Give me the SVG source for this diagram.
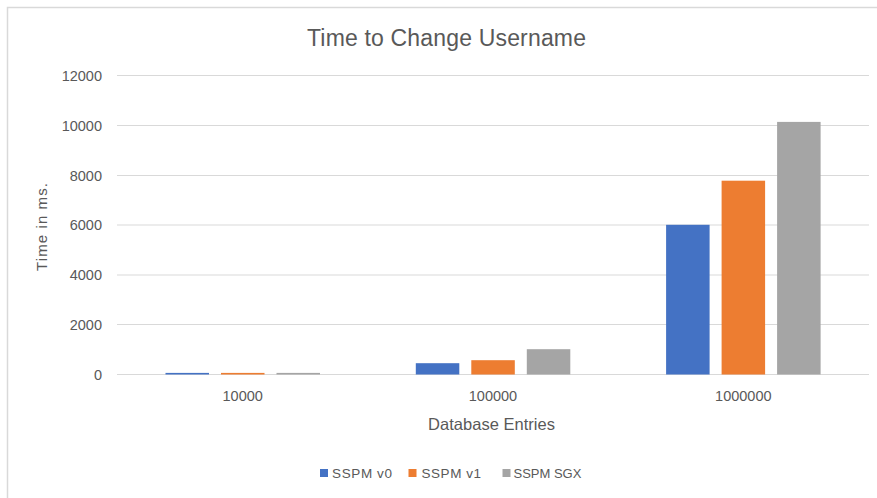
<svg xmlns="http://www.w3.org/2000/svg" width="877" height="498" viewBox="0 0 877 498">
  <style>
    text { font-family: "Liberation Sans", Arial, sans-serif; fill: #595959; }
    .title { font-size: 23px; }
    .tick { font-size: 14.5px; }
    .axis { font-size: 15px; }
    .legend { font-size: 13.5px; }
    .grid { stroke: #D9D9D9; stroke-width: 1; }
    .v0 { fill: #4472C4; }
    .v1 { fill: #ED7D31; }
    .sgx { fill: #A5A5A5; }
  </style>

  <!-- chart area -->
  <rect x="0" y="0" width="877" height="498" fill="#FFFFFF"/>
  <path d="M7.5,498 V7.5 H877" fill="none" stroke="#D9D9D9" stroke-width="1.5"/>

  <text class="title" x="446.5" y="46" text-anchor="middle" textLength="279">Time to Change Username</text>

  <!-- value axis: gridlines and labels -->
  <g id="gridlines">
    <line class="grid" x1="117" y1="75.5" x2="869" y2="75.5"/>
    <line class="grid" x1="117" y1="125.5" x2="869" y2="125.5"/>
    <line class="grid" x1="117" y1="175.5" x2="869" y2="175.5"/>
    <line class="grid" x1="117" y1="225" x2="869" y2="225"/>
    <line class="grid" x1="117" y1="275" x2="869" y2="275"/>
    <line class="grid" x1="117" y1="324.5" x2="869" y2="324.5"/>
    <line class="grid" x1="117" y1="374.5" x2="869" y2="374.5"/>
  </g>
  <g id="y-labels" class="tick" text-anchor="end">
    <text class="tick" x="102" y="80.5">12000</text>
    <text class="tick" x="102" y="130.5">10000</text>
    <text class="tick" x="102" y="180.5">8000</text>
    <text class="tick" x="102" y="230">6000</text>
    <text class="tick" x="102" y="280">4000</text>
    <text class="tick" x="102" y="329.5">2000</text>
    <text class="tick" x="102" y="379.5">0</text>
  </g>
  <text class="axis" transform="translate(47,227) rotate(-90)" text-anchor="middle" textLength="88">Time in ms.</text>

  <!-- bars per category -->
  <g id="group-10000">
    <rect class="v0" x="165.5" y="372.9" width="43.5" height="1.6"/>
    <rect class="v1" x="221" y="372.9" width="43.5" height="1.6"/>
    <rect class="sgx" x="276.5" y="372.9" width="43.5" height="1.6"/>
    <text class="tick" x="242.7" y="401" text-anchor="middle">10000</text>
  </g>
  <g id="group-100000">
    <rect class="v0" x="415.8" y="363.2" width="43.5" height="11.3"/>
    <rect class="v1" x="471.3" y="360.2" width="43.5" height="14.3"/>
    <rect class="sgx" x="526.8" y="349.2" width="43.5" height="25.3"/>
    <text class="tick" x="493" y="401" text-anchor="middle">100000</text>
  </g>
  <g id="group-1000000">
    <rect class="v0" x="666.1" y="224.8" width="43.5" height="149.7"/>
    <rect class="v1" x="721.6" y="180.7" width="43.5" height="193.8"/>
    <rect class="sgx" x="777.1" y="121.9" width="43.5" height="252.6"/>
    <text class="tick" x="743.3" y="401" text-anchor="middle">1000000</text>
  </g>

  <text class="axis" x="491.5" y="430" text-anchor="middle" style="font-size:16.5px" textLength="127">Database Entries</text>

  <!-- legend -->
  <g id="legend">
    <rect class="v0" x="320" y="469" width="8" height="8"/>
    <text class="legend" x="332" y="477.5" textLength="60">SSPM v0</text>
    <rect class="v1" x="408.5" y="469" width="8" height="8"/>
    <text class="legend" x="421.5" y="477.5" textLength="59.5">SSPM v1</text>
    <rect class="sgx" x="502.5" y="469" width="8" height="8"/>
    <text class="legend" x="513.5" y="477.5" style="font-size:13px">SSPM SGX</text>
  </g>
</svg>
